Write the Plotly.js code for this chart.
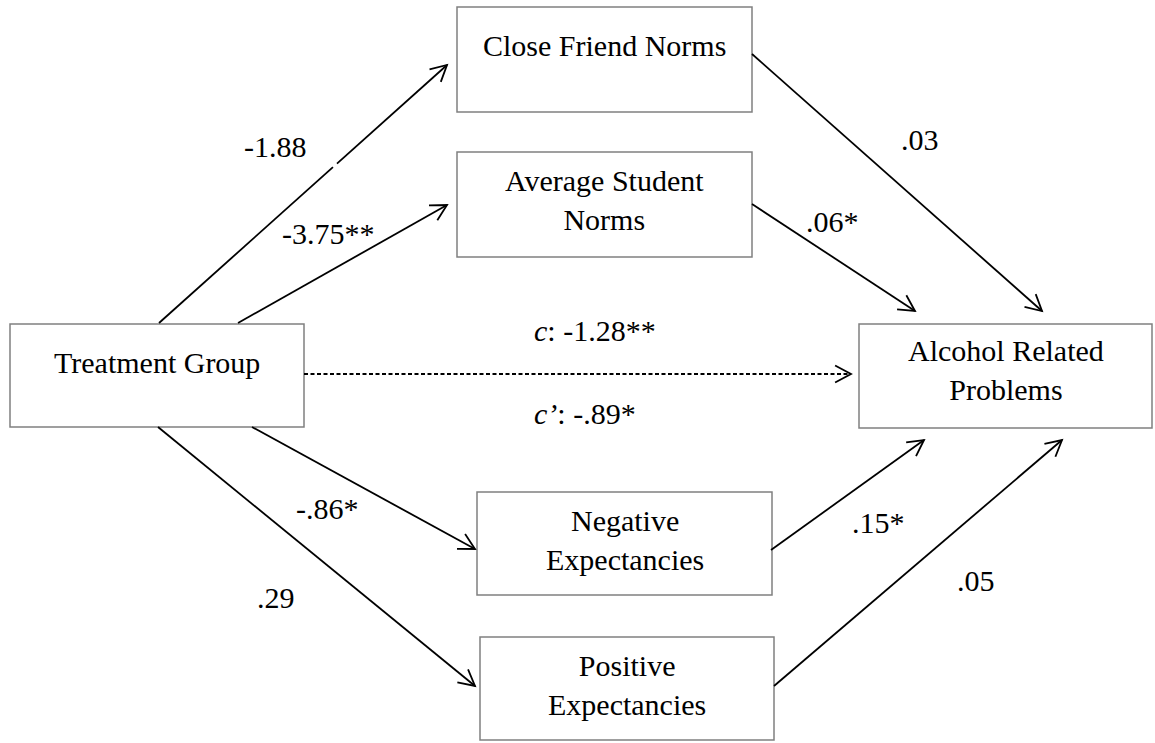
<!DOCTYPE html>
<html><head><meta charset="utf-8">
<script src="https://cdn.plot.ly/plotly-3.0.1.min.js"></script>
<style>html,body{margin:0;padding:0;background:#fff;}#chart{width:1155px;height:743px;}</style>
</head><body><div id="chart"></div>
<script>
// ---- diagram content ----
const nodeIds = ["TG", "CF", "AS", "ARP", "NE", "PE"];
const nodeLabels = ["Treatment Group", "Close Friend Norms", "Average Student<br>Norms",
                    "Alcohol Related<br>Problems", "Negative<br>Expectancies", "Positive<br>Expectancies"];
const edgeFrom = ["TG", "TG", "CF", "AS", "TG", "TG", "TG", "NE", "PE"];
const edgeTo   = ["CF", "AS", "ARP", "ARP", "ARP", "NE", "PE", "ARP", "ARP"];
const edgeLabels = ["-1.88", "-3.75**", ".03", ".06*", "<i>c</i>: -1.28**", "-.86*", ".29", ".15*", ".05"];
const directEffectLabel = "<i>c’</i>: -.89*";

// ---- geometry (pixel frame 1155 x 743) ----
const boxGeom = {TG:[10,304,324,427], CF:[457,752,7,112], AS:[457,752,152,257],
                 ARP:[859,1152,324,428], NE:[477,772,492,595], PE:[480,774,637,740]};
const textY = {TG:362, CF:45, AS:200, ARP:370, NE:540, PE:685};
const edgeGeom = [[159,323,447,65],[238,323,447,205],[752,54,1042,311],[752,204,915,311],
                  [304,374,851,374],[252,427,475,549],[158,427,475,686],[771,550,924,440],[774,686,1062,440]];
const edgeDashed = [false,false,false,false,true,false,false,false,false];
const edgeGap = [[0.604,0.618],null,null,null,null,null,null,null,null];
const labelPos = [[275,146],[328,233],[920,139],[832,221],[595,330],[327,508],[276,597],[878,522],[976,580]];
const directLabelPos = [585,413];

const FONT = {family: "Liberation Serif, 'Times New Roman', serif", size: 30, color: "#000"};
const shapes = [];
const annotations = [];

nodeIds.forEach((id, i) => {
  const g = boxGeom[id];
  shapes.push({type:"rect", xref:"x", yref:"y", x0:g[0], x1:g[1], y0:g[2], y1:g[3],
               line:{color:"#808080", width:1.5}, fillcolor:"rgba(255,255,255,0)"});
  annotations.push({x:(g[0]+g[1])/2, y:textY[id], xref:"x", yref:"y", text:nodeLabels[i],
                    showarrow:false, xanchor:"center", yanchor:"middle", font:FONT, align:"center"});
});

const ARM = 18, ANG = 28 * Math.PI / 180;
edgeGeom.forEach((e, i) => {
  const [x0,y0,x1,y1] = e;
  const lineStyle = {color:"#000", width:1.8, dash: edgeDashed[i] ? "4px,2.5px" : "solid"};
  const segs = [];
  if (edgeGap[i]) {
    const [a,b] = edgeGap[i];
    segs.push([x0,y0,x0+(x1-x0)*a,y0+(y1-y0)*a]);
    segs.push([x0+(x1-x0)*b,y0+(y1-y0)*b,x1,y1]);
  } else segs.push([x0,y0,x1,y1]);
  segs.forEach(s => shapes.push({type:"line", xref:"x", yref:"y", x0:s[0], y0:s[1], x1:s[2], y1:s[3], line:lineStyle}));
  // open arrowhead
  const L = Math.hypot(x1-x0, y1-y0), ux = (x1-x0)/L, uy = (y1-y0)/L;
  const rot = (t) => [ux*Math.cos(t) - uy*Math.sin(t), ux*Math.sin(t) + uy*Math.cos(t)];
  const r1 = rot(ANG), r2 = rot(-ANG);
  const p = `M ${x1-ARM*r1[0]} ${y1-ARM*r1[1]} L ${x1} ${y1} L ${x1-ARM*r2[0]} ${y1-ARM*r2[1]}`;
  shapes.push({type:"path", xref:"x", yref:"y", path:p, line:{color:"#000", width:1.8}});
  annotations.push({x:labelPos[i][0], y:labelPos[i][1], xref:"x", yref:"y", text:edgeLabels[i],
                    showarrow:false, xanchor:"center", yanchor:"middle", font:FONT});
});
annotations.push({x:directLabelPos[0], y:directLabelPos[1], xref:"x", yref:"y", text:directEffectLabel,
                  showarrow:false, xanchor:"center", yanchor:"middle", font:FONT});

const layout = {
  width:1155, height:743, margin:{l:0,r:0,t:0,b:0},
  paper_bgcolor:"#fff", plot_bgcolor:"#fff", showlegend:false,
  xaxis:{range:[0,1155], visible:false, fixedrange:true},
  yaxis:{range:[743,0], visible:false, fixedrange:true},
  shapes:shapes, annotations:annotations
};
Plotly.newPlot("chart", [], layout, {staticPlot:true, displayModeBar:false});
</script></body></html>
